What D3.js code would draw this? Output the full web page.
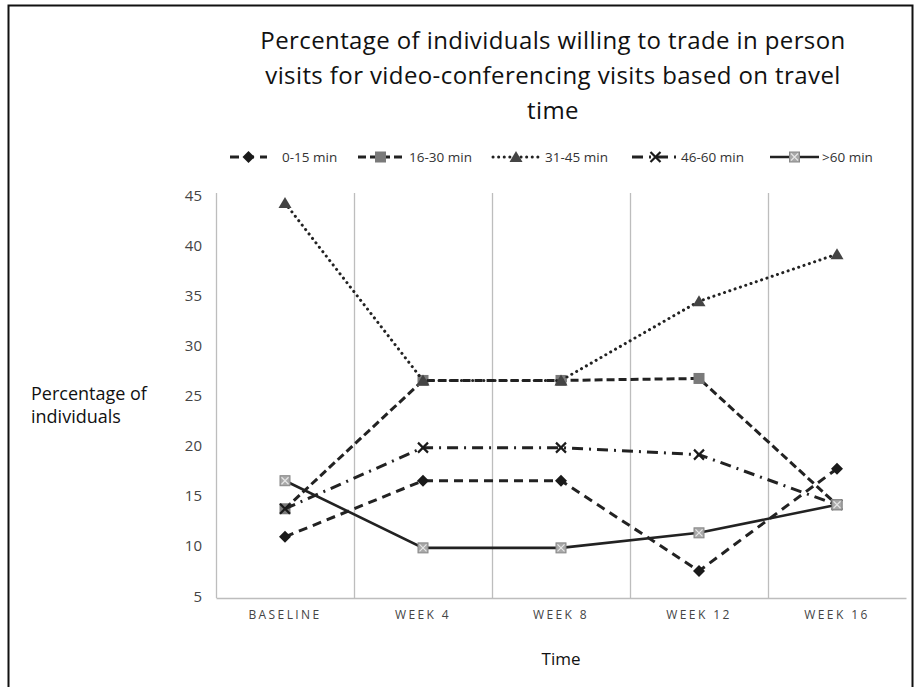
<!DOCTYPE html>
<html>

<head>
	<meta charset="utf-8">
	<script src="https://cdn.jsdelivr.net/npm/d3@7"></script>
	<style>
		body {
			margin: 0;
			background: white;
		}

		text {
			font-family: "Open Sans", Lato, sans-serif;
		}

		.tick text {
			fill: #444;
		}
	</style>
</head>

<body>
	<svg></svg>
	<script>
		var width = 917;
		var height = 687;

		var categories = ["BASELINE", "WEEK 4", "WEEK 8", "WEEK 12", "WEEK 16"];
		var seriesNames = ["0-15 min", "16-30 min", "31-45 min", "46-60 min", ">60 min"];
		var min0to15 = [11.1, 16.7, 16.7, 7.7, 17.9];
		var min16to30 = [13.9, 26.7, 26.7, 26.9, 14.3];
		var min31to45 = [44.4, 26.7, 26.7, 34.6, 39.3];
		var min46to60 = [13.9, 20.0, 20.0, 19.3, 14.3];
		var minOver60 = [16.7, 10.0, 10.0, 11.5, 14.3];
		var yTicks = [5, 10, 15, 20, 25, 30, 35, 40, 45];

		var titleLines = [
			"Percentage of individuals willing to trade in person",
			"visits for video-conferencing visits based on travel",
			"time"
		];

		// style per series
		var styles = [
			{ values: min0to15, dash: "9,6", width: 3, cap: "butt", marker: "diamond", fill: "#1a1a1a" },
			{ values: min16to30, dash: "8,4", width: 3, cap: "butt", marker: "square", fill: "#7a7a7a" },
			{ values: min31to45, dash: "0.1,5.5", width: 3, cap: "round", marker: "triangle", fill: "#444" },
			{ values: min46to60, dash: "11,6,2,6", width: 3, cap: "butt", marker: "x", fill: "#1a1a1a" },
			{ values: minOver60, dash: null, width: 2.6, cap: "butt", marker: "patsq", fill: "#a8a8a8" }
		];

		var svg = d3.select("svg")
			.attr("width", width)
			.attr("height", height);

		svg.append("rect")
			.attr("x", 8.5).attr("y", 5.5)
			.attr("width", 904).attr("height", 690)
			.attr("fill", "none")
			.attr("stroke", "#111")
			.attr("stroke-width", 2);

		var x = d3.scaleBand()
			.domain(categories)
			.range([216, 906]);

		var y = d3.scaleLinear()
			.domain([5, 45])
			.range([598, 197]);

		// title
		svg.append("g").selectAll("text")
			.data(titleLines)
			.enter()
			.append("text")
			.attr("x", 553)
			.attr("y", (d, i) => 49 + i * 35)
			.attr("text-anchor", "middle")
			.attr("font-size", 24)
			.attr("letter-spacing", 0.4)
			.attr("fill", "#111")
			.text(d => d);

		// vertical gridlines at category boundaries
		svg.append("g").selectAll("line")
			.data(categories)
			.enter()
			.append("line")
			.attr("x1", d => x(d) + 0.5)
			.attr("x2", d => x(d) + 0.5)
			.attr("y1", y(45) - 4)
			.attr("y2", y(5))
			.attr("stroke", "#bdbdbd")
			.attr("stroke-width", 1.3);

		// y axis
		var yAxis = svg.append("g")
			.attr("transform", "translate(216,0)")
			.call(d3.axisLeft(y).tickValues(yTicks).tickSize(0).tickPadding(14));
		yAxis.select(".domain").remove();
		yAxis.selectAll("text").attr("font-size", 15).attr("dy", "0.2em");

		// x axis
		var xAxis = svg.append("g")
			.attr("transform", "translate(0,598)")
			.call(d3.axisBottom(x).tickSize(0).tickPadding(12));
		xAxis.select(".domain").attr("stroke", "#bdbdbd").attr("stroke-width", 1.5);
		xAxis.selectAll("text")
			.attr("font-size", 12)
			.attr("letter-spacing", 2.4)
			.attr("fill", "#444");

		// axis titles
		svg.append("text")
			.attr("x", 561).attr("y", 665)
			.attr("text-anchor", "middle")
			.attr("font-size", 17)
			.attr("fill", "#111")
			.text("Time");

		svg.append("g").selectAll("text")
			.data(["Percentage of", "individuals"])
			.enter()
			.append("text")
			.attr("x", 31)
			.attr("y", (d, i) => 400 + i * 23)
			.attr("font-size", 18)
			.attr("fill", "#111")
			.text(d => d);

		function drawMarker(g, type, cx, cy, fill) {
			if (type == "diamond") {
				g.append("path")
					.attr("d", "M0,-6L6,0L0,6L-6,0Z")
					.attr("transform", "translate(" + cx + "," + cy + ")")
					.attr("fill", fill);
			} else if (type == "square") {
				g.append("rect")
					.attr("x", cx - 5.5).attr("y", cy - 5.5)
					.attr("width", 11).attr("height", 11)
					.attr("fill", fill);
			} else if (type == "triangle") {
				g.append("path")
					.attr("d", "M0,-6L6.5,5L-6.5,5Z")
					.attr("transform", "translate(" + cx + "," + cy + ")")
					.attr("fill", fill);
			} else if (type == "x") {
				g.append("path")
					.attr("d", "M-5,-5L5,5M5,-5L-5,5")
					.attr("transform", "translate(" + cx + "," + cy + ")")
					.attr("stroke", fill)
					.attr("stroke-width", 2.2)
					.attr("fill", "none");
			} else {
				g.append("rect")
					.attr("x", cx - 5).attr("y", cy - 5)
					.attr("width", 10).attr("height", 10)
					.attr("fill", fill)
					.attr("stroke", "#888")
					.attr("stroke-width", 1);
				g.append("path")
					.attr("d", "M-3.5,-3.5L3.5,3.5M3.5,-3.5L-3.5,3.5")
					.attr("transform", "translate(" + cx + "," + cy + ")")
					.attr("stroke", "#e6e6e6")
					.attr("stroke-width", 1.2);
			}
		}

		var line = d3.line()
			.x((d, i) => x(categories[i]) + x.bandwidth() / 2)
			.y(d => y(d));

		styles.forEach(s => {
			var g = svg.append("g");
			g.append("path")
				.attr("d", line(s.values))
				.attr("fill", "none")
				.attr("stroke", "#222")
				.attr("stroke-width", s.width)
				.attr("stroke-linecap", s.cap)
				.attr("stroke-dasharray", s.dash);
			s.values.forEach((v, i) => {
				drawMarker(g, s.marker, x(categories[i]) + x.bandwidth() / 2, y(v), s.fill);
			});
		});

		// legend
		var legendSamples = [[230, 267], [358, 403], [493, 539], [632, 679], [770, 819]];
		var legendText = [282, 409, 545, 681, 822];
		var legend = svg.append("g");
		styles.forEach((s, i) => {
			var ly = 157;
			legend.append("line")
				.attr("x1", legendSamples[i][0]).attr("x2", legendSamples[i][1])
				.attr("y1", ly).attr("y2", ly)
				.attr("stroke", "#222")
				.attr("stroke-width", s.width)
				.attr("stroke-linecap", s.cap)
				.attr("stroke-dasharray", s.dash);
			drawMarker(legend, s.marker, (legendSamples[i][0] + legendSamples[i][1]) / 2, ly, s.fill);
			legend.append("text")
				.attr("x", legendText[i])
				.attr("y", ly + 5)
				.attr("font-size", 13.5)
				.attr("fill", "#333")
				.text(seriesNames[i]);
		});
	</script>
</body>

</html>
